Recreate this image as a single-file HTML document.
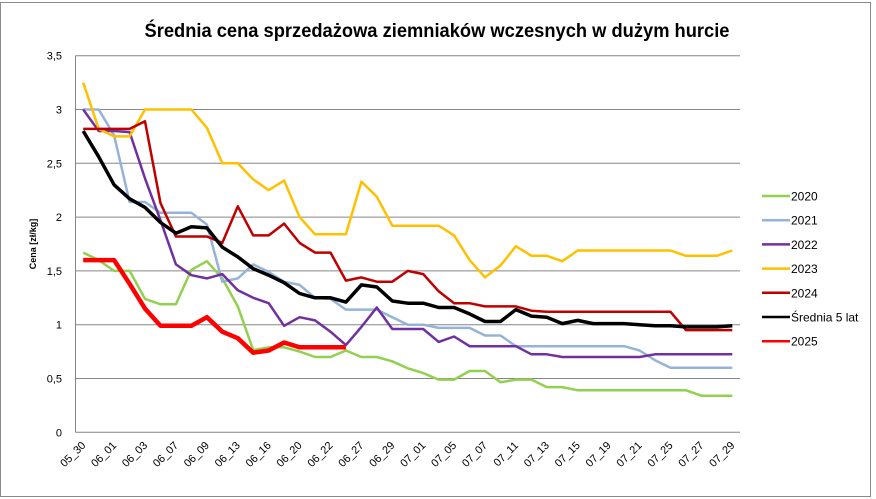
<!DOCTYPE html>
<html><head><meta charset="utf-8"><style>
html,body{margin:0;padding:0;background:#fff;}
svg{display:block;font-family:"Liberation Sans",sans-serif;}
</style></head><body>
<svg id="c" width="876" height="499" viewBox="0 0 876 499" xmlns="http://www.w3.org/2000/svg">
<rect x="0.5" y="2.5" width="870" height="494" fill="#fff" stroke="#8a8a8a"/>
<text x="437" y="37" text-anchor="middle" font-size="19" font-weight="bold" textLength="585" lengthAdjust="spacingAndGlyphs">Średnia cena sprzedażowa ziemniaków  wczesnych w dużym hurcie</text>
<g id="grid"></g>
<text transform="translate(36,244) rotate(-90)" text-anchor="middle" font-size="9" font-weight="bold">Cena [zł/kg]</text>
<g id="series" fill="none" stroke-linejoin="round"></g>
<g id="legend" font-size="12"></g>
</svg>
<script>
const NS="http://www.w3.org/2000/svg";
const X0=75.5,X1=740,Y0=432.3,K=107.6,N=43,step=(X1-X0)/N;
const xi=i=>X0+step*(i+0.5), yv=v=>Y0-v*K;
function el(t,a,p,txt){const e=document.createElementNS(NS,t);for(const k in a)e.setAttribute(k,a[k]);if(txt!=null)e.textContent=txt;p.appendChild(e);return e;}
const g=document.getElementById('grid');
for(let k=0;k<=7;k++){const y=yv(k*0.5);
 el('line',{x1:X0,x2:X1,y1:y,y2:y,stroke:'#868686','stroke-width':1},g);
 el('text',{x:62,y:y+4,'text-anchor':'end','font-size':11},g,k==0?'0':String(k*0.5).replace('.',','));}
el('line',{x1:X0,x2:X0,y1:yv(3.5),y2:Y0,stroke:'#868686'},g);
const labs=["05_30","06_01","06_03","06_07","06_09","06_13","06_16","06_20","06_22","06_27","06_29","07_01","07_05","07_07","07_11","07_13","07_15","07_19","07_21","07_25","07_27","07_29"];
labs.forEach((l,j)=>{const x=xi(2*j)+3,y=446;el('text',{x:x,y:y,'text-anchor':'end','font-size':11,transform:`rotate(-45 ${x} ${y})`},g,l);});
const S=[
["2020","#92D050",2.5,[1.67,1.6,1.5,1.5,1.24,1.19,1.19,1.51,1.59,1.43,1.17,0.765,0.79,0.79,0.75,0.7,0.7,0.76,0.7,0.7,0.66,0.595,0.55,0.49,0.49,0.57,0.57,0.465,0.49,0.49,0.42,0.42,0.39,0.39,0.39,0.39,0.39,0.39,0.39,0.39,0.34,0.34,0.34]],
["2021","#95B3D7",2.5,[3,3,2.76,2.14,2.14,2.04,2.04,2.04,1.93,1.4,1.43,1.56,1.49,1.4,1.37,1.25,1.24,1.14,1.14,1.14,1.07,1,1,0.97,0.97,0.97,0.9,0.9,0.8,0.8,0.8,0.8,0.8,0.8,0.8,0.8,0.76,0.67,0.6,0.6,0.6,0.6,0.6]],
["2022","#7030A0",2.5,[3,2.8,2.8,2.79,2.36,1.97,1.56,1.46,1.43,1.47,1.32,1.25,1.2,0.99,1.07,1.04,0.935,0.81,0.98,1.16,0.96,0.96,0.96,0.84,0.89,0.8,0.8,0.8,0.8,0.725,0.725,0.7,0.7,0.7,0.7,0.7,0.7,0.725,0.725,0.725,0.725,0.725,0.725]],
["2023","#FFC000",2.5,[3.25,2.82,2.75,2.75,3,3,3,3,2.83,2.5,2.5,2.35,2.25,2.34,2,1.84,1.84,1.84,2.33,2.19,1.92,1.92,1.92,1.92,1.83,1.6,1.44,1.55,1.73,1.64,1.64,1.59,1.69,1.69,1.69,1.69,1.69,1.69,1.69,1.64,1.64,1.64,1.69]],
["2024","#C00000",2.5,[2.82,2.82,2.82,2.82,2.89,2.13,1.82,1.82,1.82,1.76,2.1,1.83,1.83,1.94,1.76,1.67,1.67,1.41,1.44,1.4,1.4,1.5,1.47,1.31,1.2,1.2,1.17,1.17,1.17,1.13,1.12,1.12,1.12,1.12,1.12,1.12,1.12,1.12,1.12,0.95,0.95,0.95,0.95]],
["Średnia 5 lat","#000000",3.5,[2.8,2.56,2.3,2.17,2.09,1.95,1.85,1.91,1.9,1.72,1.63,1.52,1.46,1.39,1.29,1.25,1.25,1.21,1.37,1.35,1.22,1.2,1.2,1.16,1.16,1.1,1.03,1.03,1.14,1.08,1.07,1.01,1.04,1.01,1.01,1.01,1,0.99,0.99,0.98,0.98,0.98,0.99]],
["2025","#FF0000",4.5,[1.6,1.6,1.6,1.38,1.15,0.99,0.99,0.99,1.07,0.935,0.875,0.74,0.76,0.835,0.79,0.79,0.79,0.79]]
];
const sg=document.getElementById('series'),lg=document.getElementById('legend');
S.forEach((s,k)=>{
 el('polyline',{points:s[3].map((v,i)=>xi(i).toFixed(1)+','+yv(v).toFixed(1)).join(' '),stroke:s[1],'stroke-width':s[2]},sg);
 const y=196+k*24.2;
 el('line',{x1:762,x2:790,y1:y,y2:y,stroke:s[1],'stroke-width':2.5},lg);
 el('text',{x:791,y:y+4.5},lg,s[0]);
});
</script>
</body></html>
